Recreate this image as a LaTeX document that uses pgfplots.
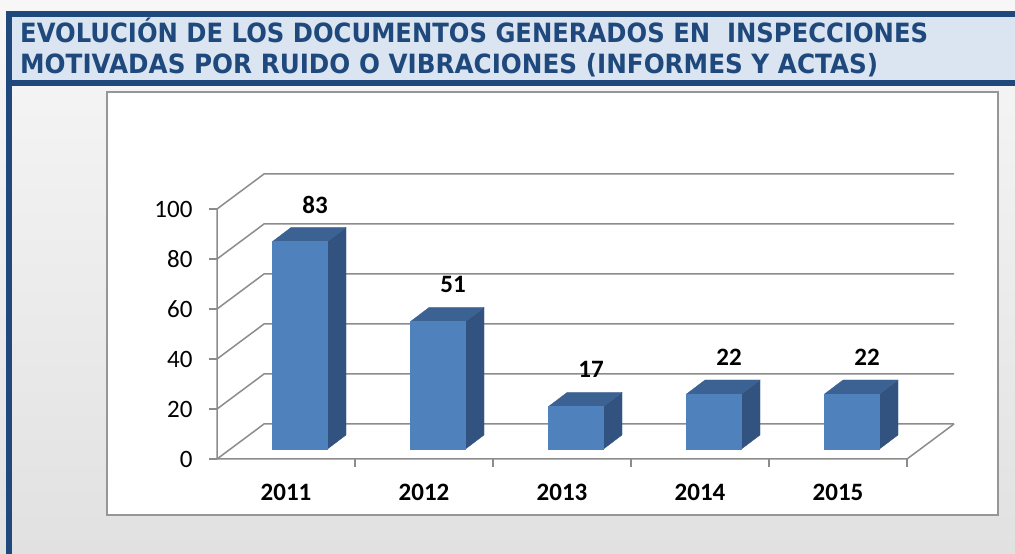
\documentclass[border=0pt]{standalone}
\usepackage{pgfplots}
\usepackage{pgfplotstable}
\usepackage{graphicx}
\pgfplotsset{compat=1.18}
\usepackage{fontspec}
\setmainfont{Carlito}
\newfontfamily\titlefont{DejaVu Sans}

\definecolor{banner}{RGB}{31,73,125}
\definecolor{bannerfill}{RGB}{219,229,241}
\definecolor{barfront}{RGB}{79,129,189}
\definecolor{barside}{RGB}{50,82,128}
\definecolor{bartop}{RGB}{60,98,147}
\definecolor{gridc}{RGB}{140,140,140}
\definecolor{framec}{RGB}{150,150,150}

\pgfplotstableread{
x v
0 83
1 51
2 17
3 22
4 22
}\datatable

% 3D prism drawn at each data point (x, value); \barv = value
\pgfdeclareplotmark{prism}{%
  \pgfmathsetmacro\hh{\barv*2.5}%
  \pgfsetlinewidth{0.3pt}%
  % side face
  \pgfsetfillcolor{barside}\pgfsetstrokecolor{barside}%
  \pgfpathmoveto{\pgfpoint{41.5pt}{10pt}}%
  \pgfpathlineto{\pgfpoint{60pt}{24pt}}%
  \pgfpathlineto{\pgfpoint{60pt}{24pt-\hh pt}}%
  \pgfpathlineto{\pgfpoint{41.5pt}{10pt-\hh pt}}%
  \pgfpathclose
  \pgfusepath{fill,stroke}%
  % top face
  \pgfsetfillcolor{bartop}\pgfsetstrokecolor{bartop}%
  \pgfpathmoveto{\pgfpoint{-13.5pt}{10pt}}%
  \pgfpathlineto{\pgfpoint{41.5pt}{10pt}}%
  \pgfpathlineto{\pgfpoint{60pt}{24pt}}%
  \pgfpathlineto{\pgfpoint{5pt}{24pt}}%
  \pgfpathclose
  \pgfusepath{fill,stroke}%
  % front face
  \pgfsetfillcolor{barfront}\pgfsetstrokecolor{barfront}%
  \pgfpathrectanglecorners{\pgfpoint{-13.5pt}{10pt-\hh pt}}{\pgfpoint{41.5pt}{10pt}}%
  \pgfusepath{fill,stroke}%
}

\begin{document}
\begin{tikzpicture}[x=1pt,y=1pt]
\useasboundingbox (0,0) rectangle (1015,554);
% background
\shade[top color={rgb,255:red,247;green,247;blue,247}, bottom color={rgb,255:red,225;green,225;blue,225}] (0,0) rectangle (1015,554);
% banner
\fill[bannerfill] (6,468) rectangle (1015,543);
\fill[banner] (6,537) rectangle (1015,543);
\fill[banner] (6,468) rectangle (1015,474);
\fill[banner] (6,0) rectangle (12,543);
\node[anchor=base west, inner sep=0, text=banner] at (20,511)
  {\resizebox{908pt}{\height}{\titlefont\bfseries\fontsize{26.5}{30}\selectfont EVOLUCIÓN DE LOS DOCUMENTOS GENERADOS EN\ \ INSPECCIONES}};
\node[anchor=base west, inner sep=0, text=banner] at (20,480)
  {\resizebox{858pt}{\height}{\titlefont\bfseries\fontsize{26.5}{30}\selectfont MOTIVADAS POR RUIDO O VIBRACIONES (INFORMES Y ACTAS)}};
% chart frame
\filldraw[fill=white, draw=framec, line width=1.5pt] (107,39) rectangle (998,462);

\begin{axis}[
  at={(217pt,95pt)}, anchor=south west,
  x=138pt, y=2.5pt,
  xmin=-0.5, xmax=4.5, ymin=0, ymax=100,
  clip=false,
  axis line style={draw=none},
  tick pos=left,
  tick align=outside,
  major tick length=8pt,
  xtick={0,1,2,3,4},
  xticklabels={2011,2012,2013,2014,2015},
  xtick style={draw=none},
  ytick={0,20,...,100},
  ytick style={draw=gridc, line width=1.5pt},
  /pgf/number format/assume math mode=true,
  yticklabel style={font=\fontsize{25}{25}\selectfont, xshift=-13pt},
  xticklabel style={font=\bfseries\fontsize{25}{25}\selectfont, yshift=-14pt},
]
% back wall grid and left wall diagonals
\pgfplotsinvokeforeach{0,20,40,60,80,100}{
  \draw[gridc, line width=1.5pt] (axis cs:-0.5,#1) -- ++(47pt,35pt) -- ([shift={(47pt,35pt)}]axis cs:4.5,#1);
}
% front axis lines and floor edge
\draw[gridc, line width=1.5pt] (axis cs:-0.5,100) -- (axis cs:-0.5,0) -- (axis cs:4.5,0) -- ++(47pt,35pt);
% category boundary ticks
\pgfplotsinvokeforeach{0.5,1.5,2.5,3.5,4.5}{
  \draw[gridc, line width=1.5pt] (axis cs:#1,0) -- ++(0pt,-8pt);
}
\addplot[scatter, only marks, mark=prism,
  scatter/@pre marker code/.code={\pgfscope},
  scatter/@post marker code/.code={\endpgfscope},
  visualization depends on={\thisrow{v} \as \barv},
  nodes near coords,
  nodes near coords style={anchor=center, xshift=29pt, yshift=47pt, text=black, font=\bfseries\fontsize{25}{25}\selectfont},
] table[x=x, y=v] {\datatable};
\end{axis}
\end{tikzpicture}
\end{document}
